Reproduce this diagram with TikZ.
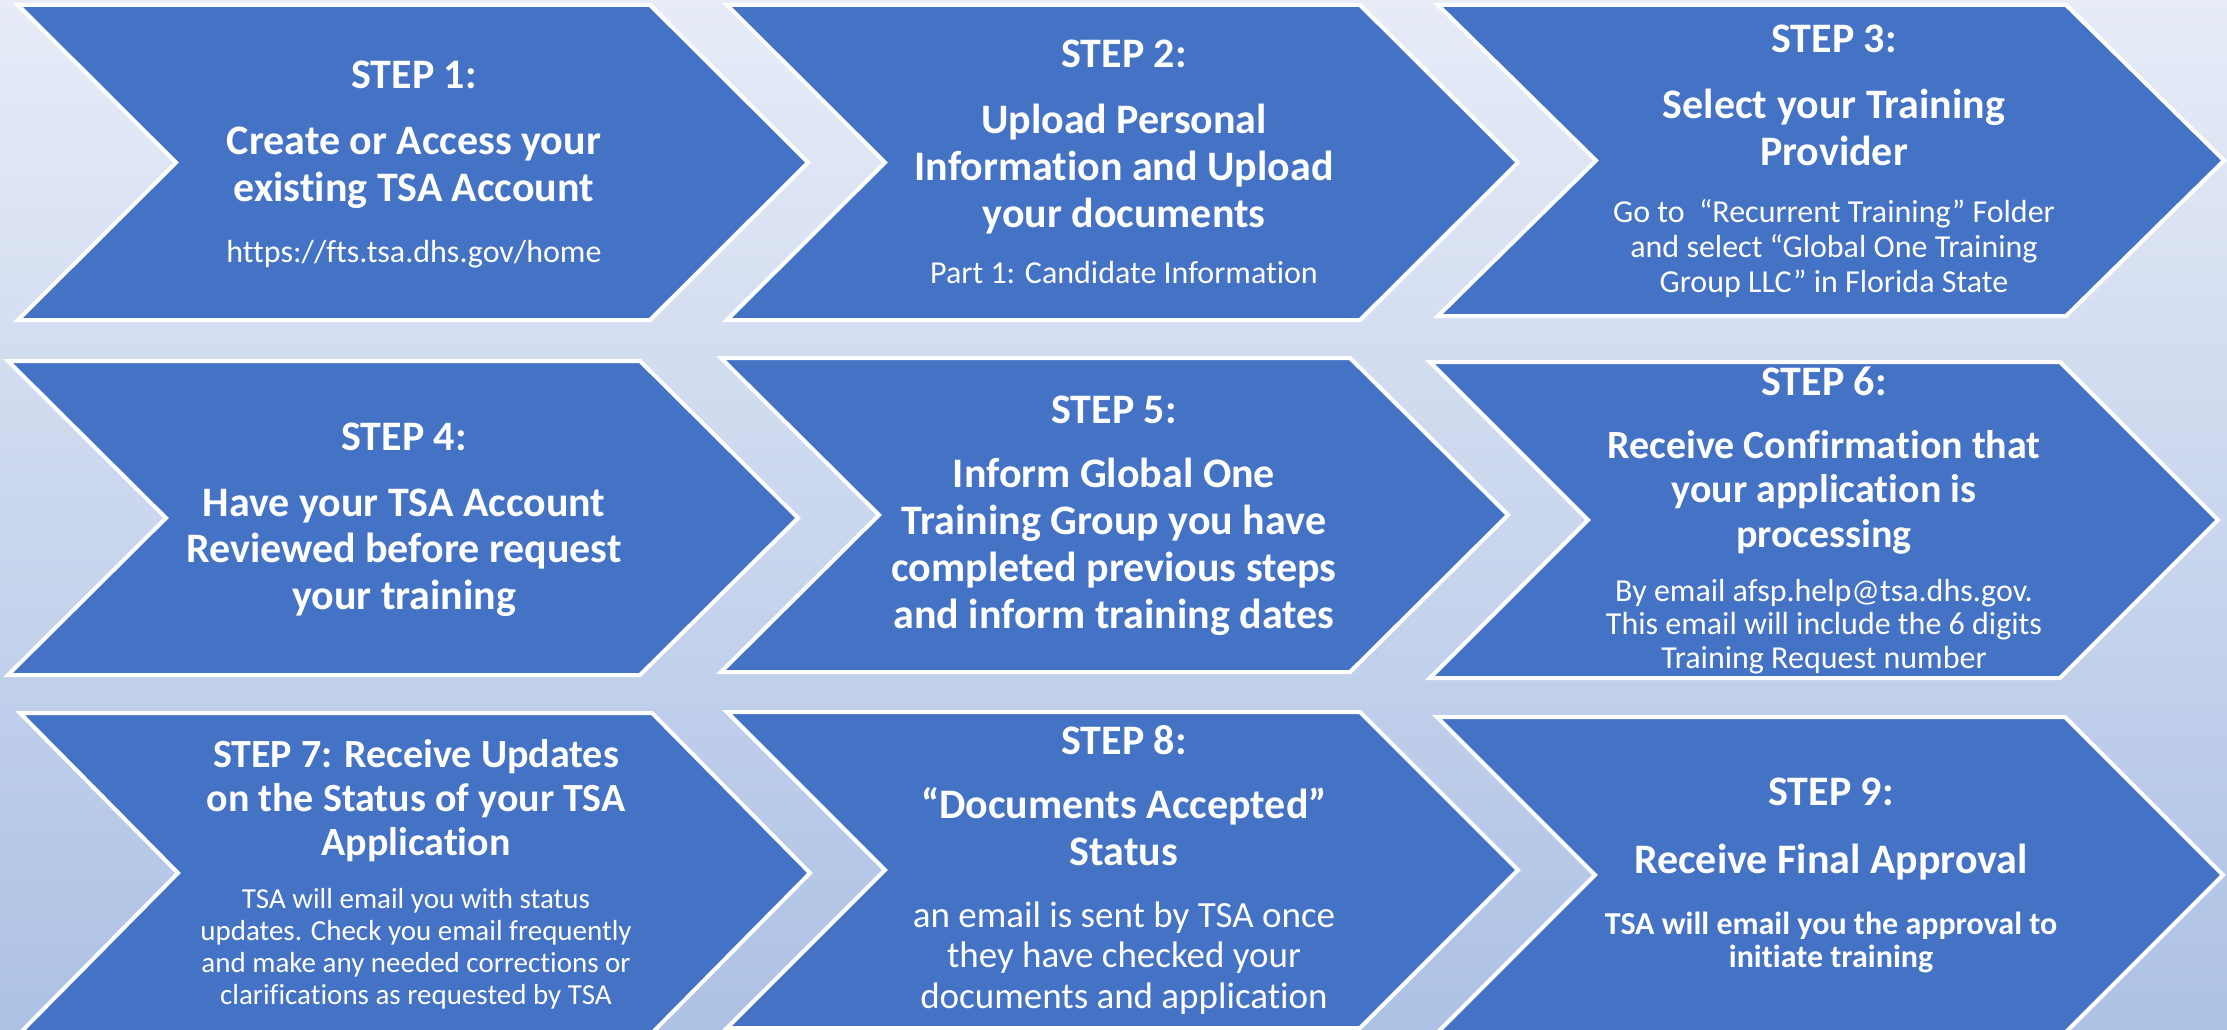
\documentclass[tikz,border=0pt]{standalone}
\usepackage{fontspec}
\setmainfont{Carlito}[Ligatures=NoCommon]
\definecolor{chevblue}{HTML}{4472C4}
\definecolor{bgtop}{HTML}{E7ECF7}
\definecolor{bgmid}{HTML}{CAD6EE}
\definecolor{bgbot}{HTML}{ADC1E4}
\tikzset{
  chev/.style={fill=chevblue, draw=white, line width=4pt, line join=miter},
  steplabel/.style={text=white, anchor=base, inner sep=0pt, font=\bfseries\fontsize{42}{47}\selectfont},
  headtxt/.style={text=white, align=center, anchor=base, inner sep=0pt, font=\bfseries\fontsize{42}{47}\selectfont},
  subtxt/.style={text=white, align=center, anchor=base, inner sep=0pt, font=\fontsize{32}{35}\selectfont},
}
% #1 left x, #2 top y, #3 body right x, #4 bottom y, #5 depth
\newcommand{\chevshape}[5]{%
  \draw[chev] (#1,#2) -- (#3,#2) -- ({#3+#5},{(#2+#4)/2}) -- (#3,#4) -- (#1,#4)
    -- ({#1+#5},{(#2+#4)/2}) -- cycle;}
\begin{document}
\begin{tikzpicture}[x=1pt,y=-1pt]
\useasboundingbox (0,0) rectangle (2227,1030);
\clip (0,0) rectangle (2227,1030);
\fill[top color=bgtop, middle color=bgmid, bottom color=bgbot] (0,0) rectangle (2227,1030);

% shapes
\chevshape{18}{5}{650}{320}{158}
\chevshape{727}{5}{1360}{320}{158}
\chevshape{1438}{5}{2066}{316}{158}
\chevshape{8}{361}{640}{675}{158}
\chevshape{721}{358}{1350}{672}{158}
\chevshape{1430}{362}{2060}{678}{158}
\chevshape{20}{713}{652}{1033}{158}
\chevshape{727}{712}{1360}{1028}{158}
\chevshape{1437}{717}{2065}{1033}{158}

% (multi-line nodes are anchored at the baseline of their last line)
% step 1
\node[steplabel] (l1) at (414,89) {STEP 1:};
\node[headtxt] (h1) at (414,201) {Create or Access your\\existing TSA Account};
\node[subtxt] (s1) at (414,262) {https://fts.tsa.dhs.gov/home};
% step 2
\node[steplabel] (l2) at (1124,68) {STEP 2:};
\node[headtxt] (h2) at (1124,227) {Upload Personal\\Information and Upload\\your documents};
\node[subtxt] (s2) at (1124,283) {Part 1: Candidate Information};
% step 3
\node[steplabel] (l3) at (1834,53) {STEP 3:};
\node[headtxt] (h3) at (1834,165) {Select your Training\\Provider};
\node[subtxt] (s3) at (1834,292) {Go to~ “Recurrent Training” Folder\\and select “Global One Training\\Group LLC” in Florida State};
% step 4
\node[steplabel] (l4) at (404,450) {STEP 4:};
\node[headtxt, font=\bfseries\fontsize{42}{46.5}\selectfont] (h4) at (404,609) {Have your TSA Account\\Reviewed before request\\your training};
% step 5
\node[steplabel] (l5) at (1114,423) {STEP 5:};
\node[headtxt, font=\bfseries\fontsize{42}{46.7}\selectfont] (h5) at (1114,628) {Inform Global One\\Training Group you have\\completed previous steps\\and inform training dates};
% step 6
\node[steplabel] (l6) at (1824,395) {STEP 6:};
\node[headtxt, font=\bfseries\fontsize{40}{44.5}\selectfont] (h6) at (1824,547) {Receive Confirmation that\\your application is\\processing};
\node[subtxt, font=\fontsize{32}{33.5}\selectfont] (s6) at (1824,668) {By email afsp.help@tsa.dhs.gov.\\This email will include the 6 digits\\Training Request number};
% step 7
\node[headtxt, font=\bfseries\fontsize{40}{44}\selectfont] (h7) at (416,855) {STEP 7: Receive Updates\\on the Status of your TSA\\Application};
\node[subtxt, font=\fontsize{29}{31.7}\selectfont] (s7) at (416,1004) {TSA will email you with status\\updates. Check you email frequently\\and make any needed corrections or\\clarifications as requested by TSA};
% step 8
\node[steplabel] (l8) at (1124,754) {STEP 8:};
\node[headtxt] (h8) at (1124,865) {“Documents Accepted”\\Status};
\node[subtxt, font=\fontsize{37}{40.5}\selectfont] (s8) at (1124,1008) {an email is sent by TSA once\\they have checked your\\documents and application};
% step 9
\node[steplabel] (l9) at (1831,805) {STEP 9:};
\node[headtxt] (h9) at (1831,873) {Receive Final Approval};
\node[subtxt, font=\bfseries\fontsize{32}{33}\selectfont] (s9) at (1831,967) {TSA will email you the approval to\\initiate training};
\end{tikzpicture}
\end{document}
